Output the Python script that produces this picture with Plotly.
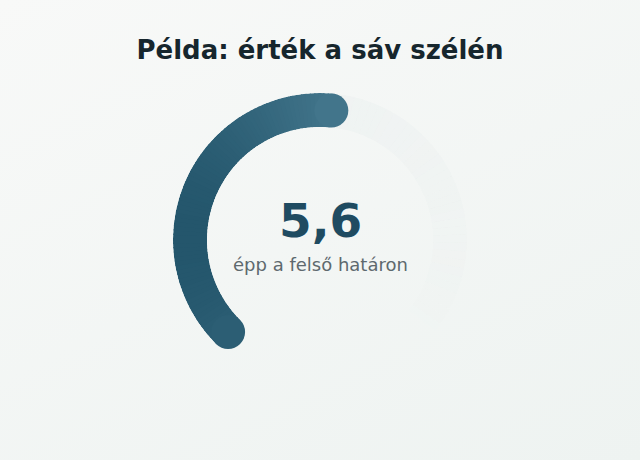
import math
import plotly.graph_objects as go

# adatok
title_text = "Példa: érték a sáv szélén"
value = 5.6
gauge_min = 0.0
gauge_max = 10.8
subtitle_text = "épp a felső határon"

SWEEP = 270.0       # a skála teljes íve fokban
START_ANGLE = 225.0 # a skála kezdete (matematikai szög)
N_SEG = 80          # ennyi szeletből áll a színátmenet
COL_LEFT = (0x24, 0x56, 0x6c)
COL_RIGHT = (0x42, 0x75, 0x8b)


def mix(c1, c2, t):
    t = min(max(t, 0.0), 1.0)
    return "rgb(%d,%d,%d)" % tuple(round(a + (b - a) * t) for a, b in zip(c1, c2))


def to_theta(v):
    return (v - gauge_min) / (gauge_max - gauge_min) * SWEEP


end_theta = to_theta(value)
x_end = math.cos(math.radians(START_ANGLE - end_theta))


def color_at(theta):
    # vízszintes átmenet: bal szélen sötét, az ív végén világos
    x = math.cos(math.radians(START_ANGLE - theta))
    return mix(COL_LEFT, COL_RIGHT, (x + 1) / (x_end + 1))


fig = go.Figure()

# halvány háttérsáv, a vége felé elhalványul
track_step = SWEEP / N_SEG
fig.add_trace(go.Barpolar(
    r=[1] * N_SEG,
    base=0,
    theta=[track_step * (i + 0.5) for i in range(N_SEG)],
    width=[track_step * 1.02] * N_SEG,
    marker=dict(
        color=["rgba(226,233,234,%.3f)" % (0.55 * (1 - i / N_SEG)) for i in range(N_SEG)],
        line=dict(width=0),
    ),
    hoverinfo="skip",
    showlegend=False,
))

# az érték íve színátmenettel
step = end_theta / N_SEG
seg_theta = [step * (i + 0.5) for i in range(N_SEG)]
fig.add_trace(go.Barpolar(
    r=[1] * N_SEG,
    base=0,
    theta=seg_theta,
    width=[step * 1.3] * N_SEG,
    marker=dict(color=[color_at(t) for t in seg_theta], line=dict(width=0)),
    hoverinfo="skip",
    showlegend=False,
))

# kerek végek
fig.add_trace(go.Scatterpolar(
    r=[0.5, 0.5],
    theta=[0, end_theta],
    mode="markers",
    marker=dict(size=34, color=[color_at(0), color_at(end_theta)], line=dict(width=0)),
    cliponaxis=False,
    hoverinfo="skip",
    showlegend=False,
))

fig.add_annotation(
    x=0.5, y=(460 - 220) / 460, xref="paper", yref="paper",
    text="<b>%s</b>" % ("%.1f" % value).replace(".", ","),
    showarrow=False,
    font=dict(family="DejaVu Sans", size=47, color="#1f4b61"),
)
fig.add_annotation(
    x=0.5, y=(460 - 264) / 460, xref="paper", yref="paper",
    text=subtitle_text,
    showarrow=False,
    font=dict(family="DejaVu Sans", size=18, color="#5e696e"),
)

fig.update_layout(
    width=640, height=460,
    margin=dict(l=0, r=0, t=0, b=0),
    paper_bgcolor="rgba(0,0,0,0)",
    plot_bgcolor="rgba(0,0,0,0)",
    title=dict(
        text="<b>%s</b>" % title_text,
        x=0.5, xanchor="center",
        y=1 - 50 / 460, yanchor="middle", yref="container",
        font=dict(family="DejaVu Sans", size=26, color="#16262d"),
    ),
    polar=dict(
        domain=dict(x=[173 / 640, 467 / 640], y=[(220 - 147) / 460, (220 + 147) / 460]),
        hole=113 / 147,
        bgcolor="rgba(0,0,0,0)",
        radialaxis=dict(range=[0, 1], visible=False),
        angularaxis=dict(direction="clockwise", rotation=225, visible=False),
        barmode="overlay",
    ),
)

# oldal margó nélkül, enyhe átmenetes háttérrel
page_js = ("document.body.style.margin='0';"
           "document.body.style.background='linear-gradient(155deg, #f8f9f8 0%, #eef3f1 100%)';"
           "document.body.style.minHeight='100vh';")

fig.write_html("out.html", config={"displayModeBar": False}, post_script=page_js)
